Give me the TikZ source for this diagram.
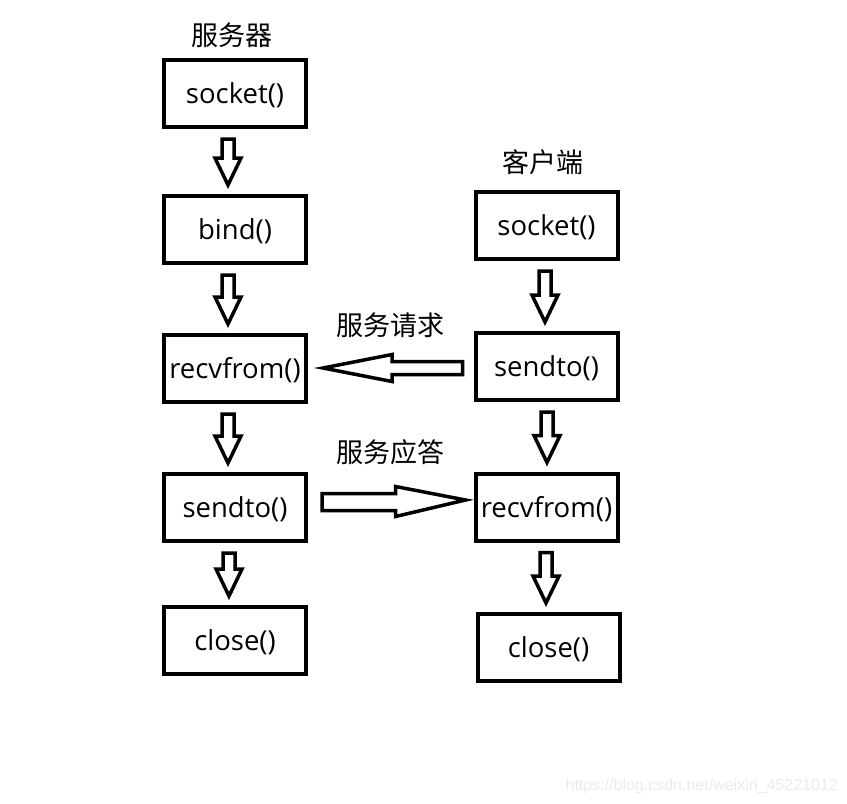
\documentclass[tikz,border=0pt]{standalone}
\usepackage{fontspec}
\setmainfont{Open Sans}
\newfontfamily\cjk{Noto Sans CJK SC}
\newfontfamily\wmfont{Liberation Sans}
\usetikzlibrary{calc}

\tikzset{
  callbox/.style={draw, line width=4pt, minimum width=142pt, minimum height=67pt,
    inner sep=0pt, text height=26pt, text depth=5.6pt,
    font=\fontsize{27.5}{32}\selectfont},
  caption/.style={font=\cjk\fontsize{27}{32}\selectfont, inner sep=0pt},
  blockarr/.style={draw, line width=3.5pt, line join=miter, fill=white},
}

% block arrow pointing down, from one box to the next
\newcommand\downblock[3]{%
  \draw[blockarr] let \p1=(#1.south), \p2=(#2.north) in
    (#3pt-6pt,\y1-10pt) -- (#3pt+6pt,\y1-10pt) -- (#3pt+6pt,\y2+36pt)
    -- (#3pt+13pt,\y2+36pt) -- (#3pt,\y2+9pt) -- (#3pt-13pt,\y2+36pt)
    -- (#3pt-6pt,\y2+36pt) -- cycle;
}

\begin{document}
\begin{tikzpicture}[x=1pt,y=1pt]
\useasboundingbox (0,0) rectangle (847,-804);

%---------------------------------------
% Server side
%---------------------------------------
\node[caption] (srvtitle) at (232,-35) {服务器};
\node[callbox] (s1) at (235,-93.5)  {socket()};
\node[callbox] (s2) at (235,-229.5) {bind()};
\node[callbox] (s3) at (235,-368.5) {recvfrom()};
\node[callbox] (s4) at (235,-507.5) {sendto()};
\node[callbox] (s5) at (235,-640.5) {close()};

\downblock{s1}{s2}{228}
\downblock{s2}{s3}{228}
\downblock{s3}{s4}{228}
\downblock{s4}{s5}{229}

%---------------------------------------
% Client side
%---------------------------------------
\node[caption] (clititle) at (543,-162) {客户端};
\node[callbox] (c1) at (546.5,-225.5) {socket()};
\node[callbox] (c2) at (546.5,-366.5) {sendto()};
\node[callbox] (c3) at (546.5,-507)   {recvfrom()};
\node[callbox] (c4) at (548.5,-647.5) {close()};

\downblock{c1}{c2}{545}
\downblock{c2}{c3}{547}
\downblock{c3}{c4}{546}

%---------------------------------------
% Request / reply
%---------------------------------------
\node[caption] (reqlabel) at (390,-325) {服务请求};
\node[caption] (replabel) at (390,-452) {服务应答};

% request: client sendto -> server recvfrom
\draw[blockarr] let \p1=(c2.west), \p2=(s3.east) in
  (\x1-11pt,\y2+7pt) -- (\x2+84pt,\y2+7pt) -- (\x2+84pt,\y2+14pt)
  -- (\x2+15pt,\y2+0.5pt) -- (\x2+84pt,\y2-13pt) -- (\x2+84pt,\y2-6pt)
  -- (\x1-11pt,\y2-6pt) -- cycle;

% reply: server sendto -> client recvfrom
\draw[blockarr] let \p1=(s4.east), \p2=(c3.west) in
  (\x1+14pt,\y1+14pt) -- (\x2-78pt,\y1+14pt) -- (\x2-78pt,\y1+21pt)
  -- (\x2-8pt,\y1+7.5pt) -- (\x2-78pt,\y1-9pt) -- (\x2-78pt,\y1-3pt)
  -- (\x1+14pt,\y1-3pt) -- cycle;

% watermark
\node[text=black!8, font=\wmfont\fontsize{16}{18}\selectfont, anchor=east, inner sep=0pt]
  (wm) at (838,-786) {https://blog.csdn.net/weixin\_45221012};
\end{tikzpicture}
\end{document}
